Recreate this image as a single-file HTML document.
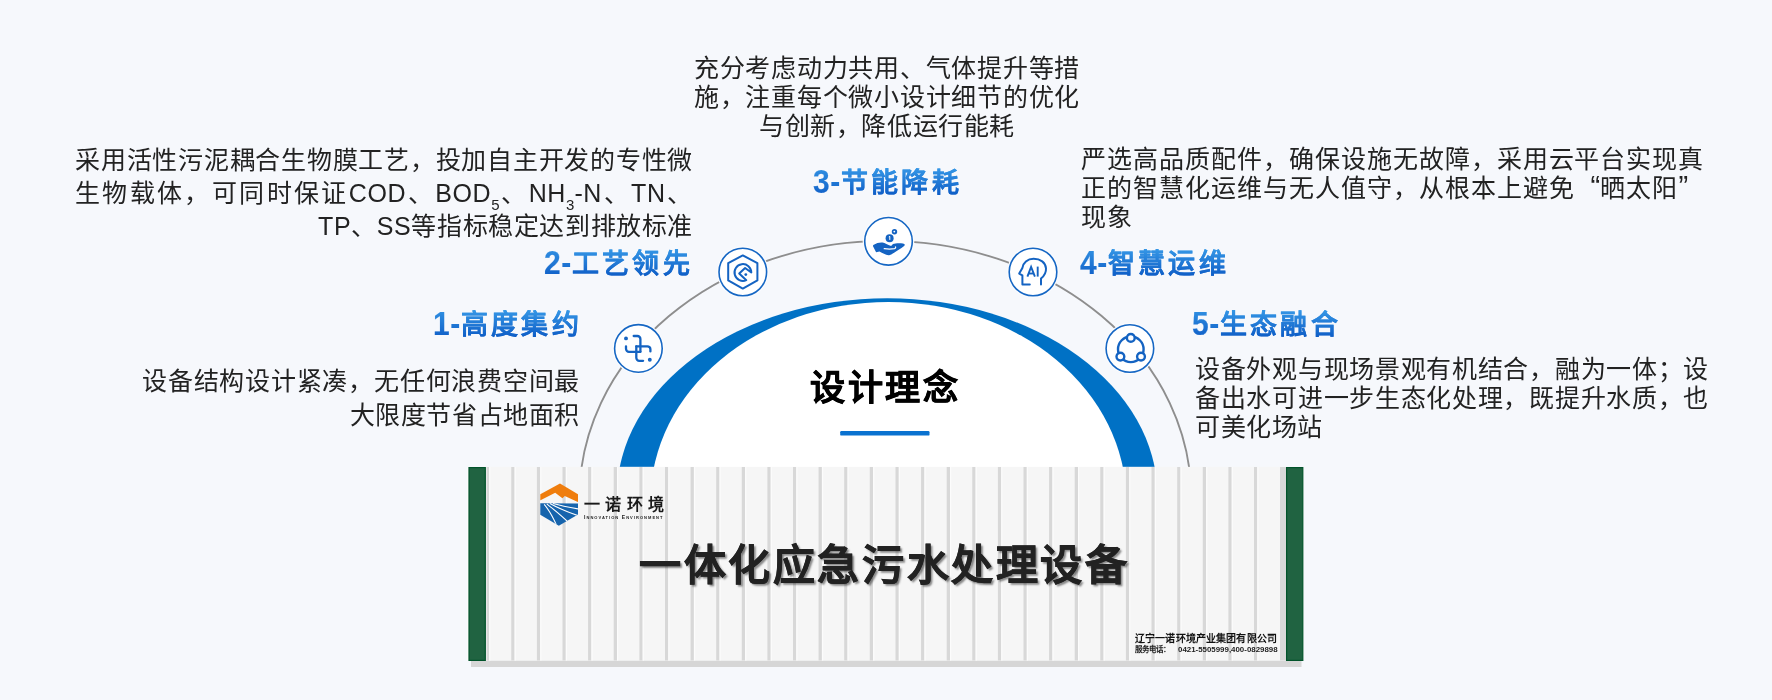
<!DOCTYPE html>
<html lang="zh-CN">
<head>
<meta charset="utf-8">
<style>
html,body{margin:0;padding:0;}
body{width:1772px;height:700px;overflow:hidden;background:#f6f8fc;position:relative;font-family:"Liberation Sans",sans-serif;color:#333;}
.t{position:absolute;font-size:25px;line-height:29px;letter-spacing:0.6px;text-align:justify;color:#222;will-change:transform;}
.h{position:absolute;font-size:27px;line-height:32px;font-weight:bold;letter-spacing:3.4px;white-space:nowrap;will-change:transform;}
.g{background:linear-gradient(180deg,#3597e6 0%,#0a57c3 100%);-webkit-background-clip:text;background-clip:text;color:transparent;-webkit-text-stroke:0.15px transparent;}
.n{display:inline-block;font-size:30px;letter-spacing:0.5px;transform:translateY(1.3px) scaleY(1.13);transform-origin:50% 78%;}
sub{font-size:15px;line-height:0;vertical-align:-8px;letter-spacing:0;}
#ta{left:694px;top:54px;width:386px;text-align-last:center;}
#tb{left:75px;top:144px;width:618px;text-align-last:right;line-height:33px;}
#tc{left:1081px;top:145px;width:623px;text-align-last:left;line-height:29px;}
.ql{display:inline-block;width:25.6px;text-align:right;text-align-last:right;letter-spacing:0;font-size:29px;line-height:24px;vertical-align:top;}
.qr{display:inline-block;width:25.6px;text-align:left;text-align-last:left;letter-spacing:0;font-size:29px;line-height:24px;vertical-align:top;}
#td{left:142px;top:364px;width:438px;text-align-last:right;line-height:34px;}
#te{left:1195px;top:355px;width:514px;text-align-last:left;}
svg{position:absolute;left:0;top:0;}
</style>
</head>
<body>
<svg width="1772" height="700" viewBox="0 0 1772 700">
  <defs><clipPath id="cp"><rect x="0" y="0" width="1772" height="467.3"/></clipPath></defs>
  <g clip-path="url(#cp)">
  <!-- gray arc -->
  <ellipse cx="885.35" cy="497.5" rx="305.9" ry="256.6" fill="none" stroke="#8e8e8e" stroke-width="1.9"/>
  <!-- blue dome -->
  <ellipse cx="887.2" cy="495" rx="270.2" ry="196.7" fill="#0071c5"/>
  <ellipse cx="888.4" cy="500" rx="237.7" ry="198" fill="#ffffff"/>
  </g>
  <!-- icon circles -->
  <g fill="#fbfcfe">
    <circle cx="638.4" cy="348.4" r="25.8"/>
    <circle cx="742.8" cy="272" r="25.8"/>
    <circle cx="888.5" cy="241.3" r="25.8"/>
    <circle cx="1033" cy="272" r="25.8"/>
    <circle cx="1129.9" cy="348.5" r="25.8"/>
  </g>
  <g fill="#fff" stroke="#1667c4" stroke-width="1.6">
    <circle cx="638.4" cy="348.4" r="23.8"/>
    <circle cx="742.8" cy="272" r="23.8"/>
    <circle cx="888.5" cy="241.3" r="23.8"/>
    <circle cx="1033" cy="272" r="23.8"/>
    <circle cx="1129.9" cy="348.5" r="23.8"/>
  </g>
  <!-- icon 1 -->
  <g transform="translate(638.4 348.4)" fill="none" stroke="#1463c2" stroke-width="2.3" stroke-linecap="round" stroke-linejoin="round">
    <path d="M-4.7 -12.4 H-1 A3 3 0 0 1 2 -9.4 V3.4"/>
    <path d="M-2.1 -2.1 H9 A3 3 0 0 1 12 0.9 V3"/>
    <path d="M-2.1 -2.1 V9.4 A3 3 0 0 0 0.9 12.4 H4.7"/>
    <path d="M-12.4 -2.1 V0.4 A3 3 0 0 0 -9.4 3.4 H2"/>
    <circle cx="-12.4" cy="-10" r="0.8" fill="#1463c2"/>
    <circle cx="11.4" cy="11.4" r="0.8" fill="#1463c2"/>
  </g>
  <!-- icon 2 -->
  <g transform="translate(742.8 272)" fill="none" stroke="#1463c2" stroke-width="2" stroke-linejoin="round">
    <path d="M0 -16.6 L14.6 -8.8 V8.4 L0 16.6 L-14.6 8.4 V-8.8 Z"/>
    <path d="M8.5 0.5 A8.4 8.4 0 1 0 3.5 8.2 L-3.6 1.6 L2.3 -4 Z"/>
    <circle cx="3" cy="2.6" r="1.4" fill="#1463c2" stroke="none"/>
  </g>
  <!-- icon 3 -->
  <g transform="translate(888.5 241.3)" fill="#1463c2">
    <path d="M-15.2 3.8 C-12 1.6 -9 1 -6 1.2 C-3.5 1.4 -1 3.6 2.6 4.6 L4.5 2.8 C7 1.8 11 1.8 14.5 2.2 C16.5 2.5 16.8 3.8 15.6 4.8 C12 7.5 9 9.5 6 11.2 C3.5 12.8 1.5 14 0 13.9 C-3 13.6 -6 11.6 -9 10.2 L-12.4 11 L-15.6 4.6 Z"/>
    <path d="M-4.3 7.4 C-1 7.8 3 7.9 6 7.3 C7 7 7.4 6.3 7 5.6" fill="none" stroke="#fff" stroke-width="1.2" stroke-linecap="round"/>
    <circle cx="1.1" cy="-3.1" r="4"/>
    <path d="M0.3 -4.4 L1.3 -4.9 V-1.4" fill="none" stroke="#fff" stroke-width="1"/>
    <circle cx="6" cy="-9.5" r="2.7"/>
    <circle cx="5.8" cy="-9.7" r="0.9" fill="#fff"/>
  </g>
  <!-- icon 4 -->
  <g transform="translate(1033 272)" fill="none" stroke="#1463c2" stroke-width="2" stroke-linecap="round" stroke-linejoin="round">
    <path d="M8 12.6 V6.6 C11.6 3.6 13.2 -0.2 13 -3.6 C12.6 -9.6 7.4 -13.2 0.6 -13.2 C-5.6 -13.2 -10 -9 -10.6 -4 L-13.8 1.6 L-10.6 3.4 V12.6 H-3.2"/>
  </g>
  <g transform="translate(1033 272)" fill="none" stroke="#1463c2" stroke-width="1.9" stroke-linejoin="miter">
    <path d="M-5.6 4.6 L-1.9 -5.2 L1.9 4.6"/>
    <path d="M-4.3 1.5 H0.5"/>
    <path d="M4.7 -5.4 V4.6"/>
  </g>
  <!-- icon 5 -->
  <g transform="translate(1130.8 349.3)" stroke="#1463c2" stroke-width="2.4">
    <circle cx="0" cy="0" r="12.8" fill="none"/>
    <circle cx="0" cy="-11.4" r="3.9" fill="#fff"/>
    <circle cx="-10.4" cy="7.3" r="3.9" fill="#fff"/>
    <circle cx="10.2" cy="7.3" r="3.9" fill="#fff"/>
  </g>
  <!-- underline -->
  <rect x="840.2" y="431.1" width="89.3" height="4.5" rx="1.2" fill="#0a72d0"/>
</svg>

<div class="t" id="ta">充分考虑动力共用、气体提升等措施，注重每个微小设计细节的优化与创新，降低运行能耗</div>
<div class="t" id="tb">采用活性污泥耦合生物膜工艺，投加自主开发的专性微生物载体，可同时保证COD、BOD<sub>5</sub>、NH<sub>3</sub>-N、TN、TP、SS等指标稳定达到排放标准</div>
<div class="t" id="tc">严选高品质配件，确保设施无故障，采用云平台实现真正的智慧化运维与无人值守，从根本上避免<span class="ql">“</span>晒太阳<span class="qr">”</span>现象</div>
<div class="t" id="td">设备结构设计紧凑，无任何浪费空间最大限度节省占地面积</div>
<div class="t" id="te">设备外观与现场景观有机结合，融为一体；设备出水可进一步生态化处理，既提升水质，也可美化场站</div>

<div class="h" style="left:813px;top:166px;"><span class="n g">3-</span><span class="g">节能降耗</span></div>
<div class="h" style="left:544px;top:247px;"><span class="n g">2-</span><span class="g">工艺领先</span></div>
<div class="h" style="left:433px;top:308px;"><span class="n g">1-</span><span class="g">高度集约</span></div>
<div class="h" style="left:1080px;top:247px;"><span class="n g">4-</span><span class="g">智慧运维</span></div>
<div class="h" style="left:1192px;top:308px;"><span class="n g">5-</span><span class="g">生态融合</span></div>

<div id="dl" style="will-change:transform;position:absolute;left:810px;top:366px;font-size:35px;font-weight:900;color:#000;letter-spacing:2.7px;-webkit-text-stroke:0.6px #000;line-height:44px;white-space:nowrap;">设计理念</div>

<!-- container -->
<!--CT-->
<svg style="position:absolute;left:0;top:0" width="1772" height="700">
<rect x="467" y="466.8" width="837" height="193.7" fill="#fbfbfb"/>
<rect x="471" y="660.5" width="830.5" height="6.5" fill="#d6d6d6"/>
<rect x="486" y="467" width="800" height="193.5" fill="#f6f6f6"/>
<rect x="486.5" y="467" width="2.6" height="193.5" fill="#d8d8d8"/>
<rect x="489.1" y="467" width="1.2" height="193.5" fill="#fcfcfc"/>
<rect x="511.3" y="467" width="3.3" height="193.5" fill="#d8d8d8"/>
<rect x="514.6" y="467" width="1.2" height="193.5" fill="#fcfcfc"/>
<rect x="536.9" y="467" width="3.3" height="193.5" fill="#d8d8d8"/>
<rect x="540.2" y="467" width="1.2" height="193.5" fill="#fcfcfc"/>
<rect x="562.5" y="467" width="3.3" height="193.5" fill="#d8d8d8"/>
<rect x="565.8" y="467" width="1.2" height="193.5" fill="#fcfcfc"/>
<rect x="588.1" y="467" width="3.3" height="193.5" fill="#d8d8d8"/>
<rect x="591.4" y="467" width="1.2" height="193.5" fill="#fcfcfc"/>
<rect x="613.7" y="467" width="3.3" height="193.5" fill="#d8d8d8"/>
<rect x="617.0" y="467" width="1.2" height="193.5" fill="#fcfcfc"/>
<rect x="639.4" y="467" width="3.3" height="193.5" fill="#d8d8d8"/>
<rect x="642.6" y="467" width="1.2" height="193.5" fill="#fcfcfc"/>
<rect x="665.0" y="467" width="3.3" height="193.5" fill="#d8d8d8"/>
<rect x="668.3" y="467" width="1.2" height="193.5" fill="#fcfcfc"/>
<rect x="690.6" y="467" width="3.3" height="193.5" fill="#d8d8d8"/>
<rect x="693.9" y="467" width="1.2" height="193.5" fill="#fcfcfc"/>
<rect x="716.2" y="467" width="3.3" height="193.5" fill="#d8d8d8"/>
<rect x="719.5" y="467" width="1.2" height="193.5" fill="#fcfcfc"/>
<rect x="741.8" y="467" width="3.3" height="193.5" fill="#d8d8d8"/>
<rect x="745.1" y="467" width="1.2" height="193.5" fill="#fcfcfc"/>
<rect x="767.4" y="467" width="3.3" height="193.5" fill="#d8d8d8"/>
<rect x="770.7" y="467" width="1.2" height="193.5" fill="#fcfcfc"/>
<rect x="793.0" y="467" width="3.3" height="193.5" fill="#d8d8d8"/>
<rect x="796.3" y="467" width="1.2" height="193.5" fill="#fcfcfc"/>
<rect x="818.6" y="467" width="3.3" height="193.5" fill="#d8d8d8"/>
<rect x="821.9" y="467" width="1.2" height="193.5" fill="#fcfcfc"/>
<rect x="844.2" y="467" width="3.3" height="193.5" fill="#d8d8d8"/>
<rect x="847.5" y="467" width="1.2" height="193.5" fill="#fcfcfc"/>
<rect x="869.8" y="467" width="3.3" height="193.5" fill="#d8d8d8"/>
<rect x="873.1" y="467" width="1.2" height="193.5" fill="#fcfcfc"/>
<rect x="895.5" y="467" width="3.3" height="193.5" fill="#d8d8d8"/>
<rect x="898.8" y="467" width="1.2" height="193.5" fill="#fcfcfc"/>
<rect x="921.1" y="467" width="3.3" height="193.5" fill="#d8d8d8"/>
<rect x="924.4" y="467" width="1.2" height="193.5" fill="#fcfcfc"/>
<rect x="946.7" y="467" width="3.3" height="193.5" fill="#d8d8d8"/>
<rect x="950.0" y="467" width="1.2" height="193.5" fill="#fcfcfc"/>
<rect x="972.3" y="467" width="3.3" height="193.5" fill="#d8d8d8"/>
<rect x="975.6" y="467" width="1.2" height="193.5" fill="#fcfcfc"/>
<rect x="997.9" y="467" width="3.3" height="193.5" fill="#d8d8d8"/>
<rect x="1001.2" y="467" width="1.2" height="193.5" fill="#fcfcfc"/>
<rect x="1023.5" y="467" width="3.3" height="193.5" fill="#d8d8d8"/>
<rect x="1026.8" y="467" width="1.2" height="193.5" fill="#fcfcfc"/>
<rect x="1049.1" y="467" width="3.3" height="193.5" fill="#d8d8d8"/>
<rect x="1052.4" y="467" width="1.2" height="193.5" fill="#fcfcfc"/>
<rect x="1074.7" y="467" width="3.3" height="193.5" fill="#d8d8d8"/>
<rect x="1078.0" y="467" width="1.2" height="193.5" fill="#fcfcfc"/>
<rect x="1100.3" y="467" width="3.3" height="193.5" fill="#d8d8d8"/>
<rect x="1103.6" y="467" width="1.2" height="193.5" fill="#fcfcfc"/>
<rect x="1125.9" y="467" width="3.3" height="193.5" fill="#d8d8d8"/>
<rect x="1129.2" y="467" width="1.2" height="193.5" fill="#fcfcfc"/>
<rect x="1151.5" y="467" width="3.3" height="193.5" fill="#d8d8d8"/>
<rect x="1154.8" y="467" width="1.2" height="193.5" fill="#fcfcfc"/>
<rect x="1177.2" y="467" width="3.3" height="193.5" fill="#d8d8d8"/>
<rect x="1180.5" y="467" width="1.2" height="193.5" fill="#fcfcfc"/>
<rect x="1202.8" y="467" width="3.3" height="193.5" fill="#d8d8d8"/>
<rect x="1206.1" y="467" width="1.2" height="193.5" fill="#fcfcfc"/>
<rect x="1228.4" y="467" width="3.3" height="193.5" fill="#d8d8d8"/>
<rect x="1231.7" y="467" width="1.2" height="193.5" fill="#fcfcfc"/>
<rect x="1254.0" y="467" width="3.3" height="193.5" fill="#d8d8d8"/>
<rect x="1257.3" y="467" width="1.2" height="193.5" fill="#fcfcfc"/>
<rect x="1280.0" y="467" width="6" height="193.5" fill="#d8d8d8"/>
<rect x="469" y="467.6" width="16.3" height="192.8" fill="#206341" stroke="#01532a" stroke-width="1.2"/>
<rect x="1286.6" y="467.6" width="16.2" height="192.8" fill="#206341" stroke="#01532a" stroke-width="1.2"/>
</svg>
<!--/CT-->

<!-- logo -->
<svg style="position:absolute;left:538px;top:481px" width="46" height="48" viewBox="538 481 46 48">
  <defs><clipPath id="hx"><path d="M560 483.6 L578 494.3 V514.5 L558.8 525.8 L540.3 514.8 V494.2 Z"/></clipPath></defs>
  <g clip-path="url(#hx)">
    <path d="M538 481 H584 V502.2 L577.8 502 L564.8 496.1 L562.4 498.2 L555.2 492.7 L540.5 500.2 L538 500.6 Z" fill="#ef7d0d"/>
    <path d="M538 503.3 L584 503.6 V530 H538 Z" fill="#1664ad"/>
    <path d="M544.2 504.4 C549 510 553 517 557.3 527" fill="none" stroke="#fff" stroke-width="1.1"/>
    <path d="M546.8 503.8 C553 509 561 515 569 523" fill="none" stroke="#fff" stroke-width="1.1"/>
    <path d="M549.8 503.6 C557 507.5 566 511.5 579 516" fill="none" stroke="#fff" stroke-width="1.1"/>
    <path d="M553 503.5 C560 505.5 568 507.2 580 509.2" fill="none" stroke="#fff" stroke-width="1.1"/>
  </g>
</svg>
<div style="will-change:transform;position:absolute;left:584px;top:494px;font-size:16px;line-height:22px;font-weight:bold;letter-spacing:5.4px;color:#1a1a1a;white-space:nowrap;">一诺环境</div>
<div style="will-change:transform;position:absolute;left:584px;top:514px;font-size:5px;line-height:6px;font-weight:bold;letter-spacing:1.05px;color:#222;white-space:nowrap;">I<span style="font-size:4px">NNOVATION</span> E<span style="font-size:4px">NVIRONMENT</span></div>

<!-- title -->
<div style="will-change:transform;position:absolute;left:639px;top:538px;font-size:42px;line-height:56px;font-weight:bold;color:#222;letter-spacing:2.6px;-webkit-text-stroke:0.5px #222;white-space:nowrap;text-shadow:2px 2px 2px rgba(0,0,0,0.45);">一体化应急污水处理设备</div>

<!-- company -->
<div style="will-change:transform;position:absolute;left:1135px;top:633px;font-family:'Liberation Serif',serif;font-size:10px;line-height:12px;font-weight:bold;letter-spacing:0.15px;color:#111;white-space:nowrap;">辽宁一诺环境产业集团有限公司</div>
<div style="will-change:transform;position:absolute;left:1135px;top:645px;font-size:7.5px;line-height:10px;font-weight:bold;color:#222;white-space:nowrap;">服务电话：<span style="position:absolute;left:43px;top:0;font-size:7.9px;">0421-5505999,400-0829898</span></div>
</body>
</html>
